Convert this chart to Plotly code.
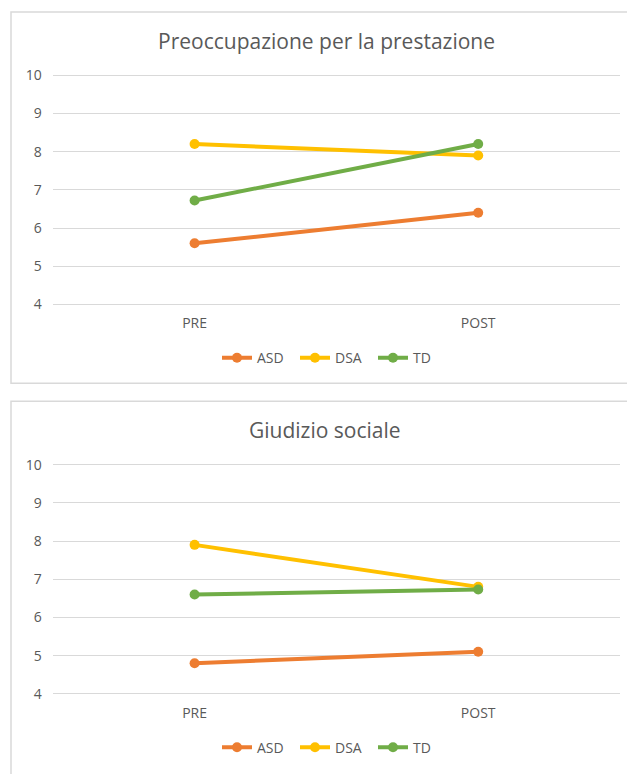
import plotly.graph_objects as go

W, H = 627, 774

categories = ["PRE", "POST"]
series_names = ["ASD", "DSA", "TD"]
colors = ["#ED7D31", "#FFC000", "#70AD47"]

title_top = "Preoccupazione per la prestazione"
asd_top = [5.6, 6.4]
dsa_top = [8.2, 7.9]
td_top = [6.72, 8.2]

title_bottom = "Giudizio sociale"
asd_bottom = [4.8, 5.1]
dsa_bottom = [7.9, 6.8]
td_bottom = [6.6, 6.73]

y_ticks = [4, 5, 6, 7, 8, 9, 10]

FONT = "Open Sans"
GRAY = "#595959"
GRID = "#D9D9D9"


def px_x(p):
    return p / W


def px_y(p):
    return 1 - p / H


fig = go.Figure()

top_series = [asd_top, dsa_top, td_top]
bottom_series = [asd_bottom, dsa_bottom, td_bottom]

for name, vals, col in zip(series_names, top_series, colors):
    fig.add_trace(go.Scatter(
        x=categories, y=vals, name=name, mode="lines+markers",
        line=dict(color=col, width=4), marker=dict(color=col, size=10),
        xaxis="x", yaxis="y", legend="legend", cliponaxis=False,
    ))

for name, vals, col in zip(series_names, bottom_series, colors):
    fig.add_trace(go.Scatter(
        x=categories, y=vals, name=name, mode="lines+markers",
        line=dict(color=col, width=4), marker=dict(color=col, size=10),
        xaxis="x2", yaxis="y2", legend="legend2", cliponaxis=False,
    ))

xdom = [px_x(52.8), px_x(620)]
xaxis_common = dict(
    type="category", range=[-0.5, 1.5], showgrid=False, zeroline=False,
    showline=False, ticks="", tickfont=dict(family=FONT, size=14, color=GRAY),
    ticklabelstandoff=5, fixedrange=True,
)
yaxis_common = dict(
    range=[3.9, 10.1], tickvals=y_ticks, showgrid=True, gridcolor=GRID,
    gridwidth=1.3, zeroline=False, showline=False, ticks="",
    tickfont=dict(family=FONT, size=14, color=GRAY), ticklabelstandoff=10,
    fixedrange=True,
)

legend_common = dict(
    orientation="h", xanchor="left", yanchor="middle",
    font=dict(family=FONT, size=14, color=GRAY), bgcolor="rgba(0,0,0,0)",
    entrywidth=33, entrywidthmode="pixels", itemclick=False,
)

fig.update_layout(
    width=W, height=H, margin=dict(l=0, r=0, t=0, b=0),
    paper_bgcolor="white", plot_bgcolor="white",
    xaxis=dict(domain=xdom, anchor="y", **xaxis_common),
    yaxis=dict(domain=[px_y(306.6), px_y(66.4)], anchor="x", **yaxis_common),
    xaxis2=dict(domain=xdom, anchor="y2", **xaxis_common),
    yaxis2=dict(domain=[px_y(701.6), px_y(461.4)], anchor="x2", **yaxis_common),
    legend=dict(x=px_x(217), y=px_y(357.3), **legend_common),
    legend2=dict(x=px_x(217), y=px_y(752.3), **legend_common),
    shapes=[
        dict(type="rect", xref="paper", yref="paper",
             x0=px_x(11), x1=px_x(645), y0=px_y(382.7), y1=px_y(6),
             line=dict(color=GRID, width=1.5), fillcolor="rgba(0,0,0,0)", layer="below"),
        dict(type="rect", xref="paper", yref="paper",
             x0=px_x(11), x1=px_x(645), y0=px_y(800), y1=px_y(401),
             line=dict(color=GRID, width=1.5), fillcolor="rgba(0,0,0,0)", layer="below"),
    ],
    annotations=[
        dict(text=title_top, x=px_x(326), y=px_y(35), xref="paper", yref="paper",
             xanchor="center", yanchor="middle", showarrow=False,
             font=dict(family=FONT, size=21, color=GRAY)),
        dict(text=title_bottom, x=px_x(325), y=px_y(430), xref="paper", yref="paper",
             xanchor="center", yanchor="middle", showarrow=False,
             font=dict(family=FONT, size=21, color=GRAY)),
    ],
)

fig.write_html("out.html")
